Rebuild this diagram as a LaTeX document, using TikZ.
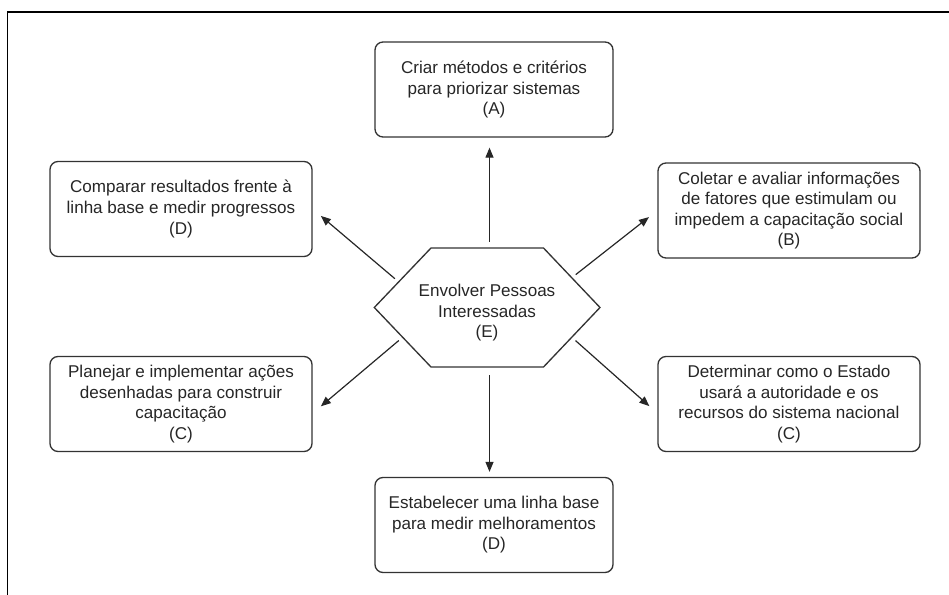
\documentclass[tikz,border=0pt]{standalone}
\usepackage{fontspec}
\setmainfont{Liberation Sans}
\usetikzlibrary{arrows.meta,calc}
\tikzset{
  stepbox/.style={draw=black!80, line width=1pt, rounded corners=6pt, align=center, text=black!85, minimum height=71.25pt, inner sep=2pt},
  widebox/.style={stepbox, minimum width=196.5pt},
  midbox/.style={stepbox, minimum width=178.5pt},
  flowarrow/.style={draw=black!85, line width=0.9pt, -{Triangle[length=7.5pt,width=6pt]}},
}
\begin{document}
\begin{tikzpicture}[x=0.75pt,y=0.75pt,yscale=-1,xscale=1, font=\fontsize{12.8}{15.4}\selectfont]
        \useasboundingbox (0,0) rectangle (949,595);
        %Straight Lines [frame]
        \draw [line width=1.1pt] (7.5,595) -- (7.5,12) -- (949,12) ;

        %Shape: Hexagon
        \coordinate (hL) at (374.3,307.5);
        \coordinate (hTL) at (431,248);
        \coordinate (hTR) at (543.5,248);
        \coordinate (hR) at (600,307.5);
        \coordinate (hBR) at (543.5,367);
        \coordinate (hBL) at (431,367);
        \draw [draw=black!80, line width=1pt] (hL) -- (hTL) -- (hTR) -- (hR) -- (hBR) -- (hBL) -- cycle ;
        % Text Node
        \node (E) at (487,313) [align=center, text=black!85] {Envolver Pessoas\\Interessadas\\(E)};

        % Text Node
        \node (A) at (494,89.5) [midbox] {Criar métodos e critérios\\para priorizar sistemas\\(A)};
        % Text Node
        \node (Dl) at (181,209) [widebox] {Comparar resultados frente à\\linha base e medir progressos\\(D)};
        % Text Node
        \node (B) at (789,210.5) [widebox] {Coletar e avaliar informações\\de fatores que estimulam ou\\impedem a capacitação social\\(B)};
        % Text Node
        \node (Cl) at (181,404) [widebox] {Planejar e implementar ações\\desenhadas para construir\\capacitação\\(C)};
        % Text Node
        \node (Cr) at (789,404) [widebox] {Determinar como o Estado\\usará a autoridade e os\\recursos do sistema nacional\\(C)};
        % Text Node
        \node (Db) at (494,525) [midbox] {Estabelecer uma linha base\\para medir melhoramentos\\(D)};

        %Arrows
        \coordinate (eT) at ($(hTL)!0.52!(hTR)$);
        \coordinate (eB) at ($(hBL)!0.52!(hBR)$);
        \coordinate (eUL) at ($(hL)!0.43!(hTL)$);
        \coordinate (eLL) at ($(hL)!0.5!(hBL)$);
        \coordinate (eUR) at ($(hTR)!0.5!(hR)$);
        \coordinate (eLR) at ($(hR)!0.5!(hBR)$);
        \draw [flowarrow, shorten <=4.5pt, shorten >=7.5pt] (eT) -- (eT |- A.south) ;
        \draw [flowarrow, shorten <=6pt, shorten >=3.75pt] (eB) -- (eB |- Db.north) ;
        \draw [flowarrow, shorten <=3.75pt, shorten >=8pt] (eUL) -- (Dl.east) ;
        \draw [flowarrow, shorten <=3.75pt, shorten >=8pt] (eLL) -- (Cl.-4) ;
        \draw [flowarrow, shorten <=3.75pt, shorten >=8pt] (eUR) -- (B.west) ;
        \draw [flowarrow, shorten <=3.75pt, shorten >=8pt] (eLR) -- (Cr.184) ;
    \end{tikzpicture}
\end{document}
